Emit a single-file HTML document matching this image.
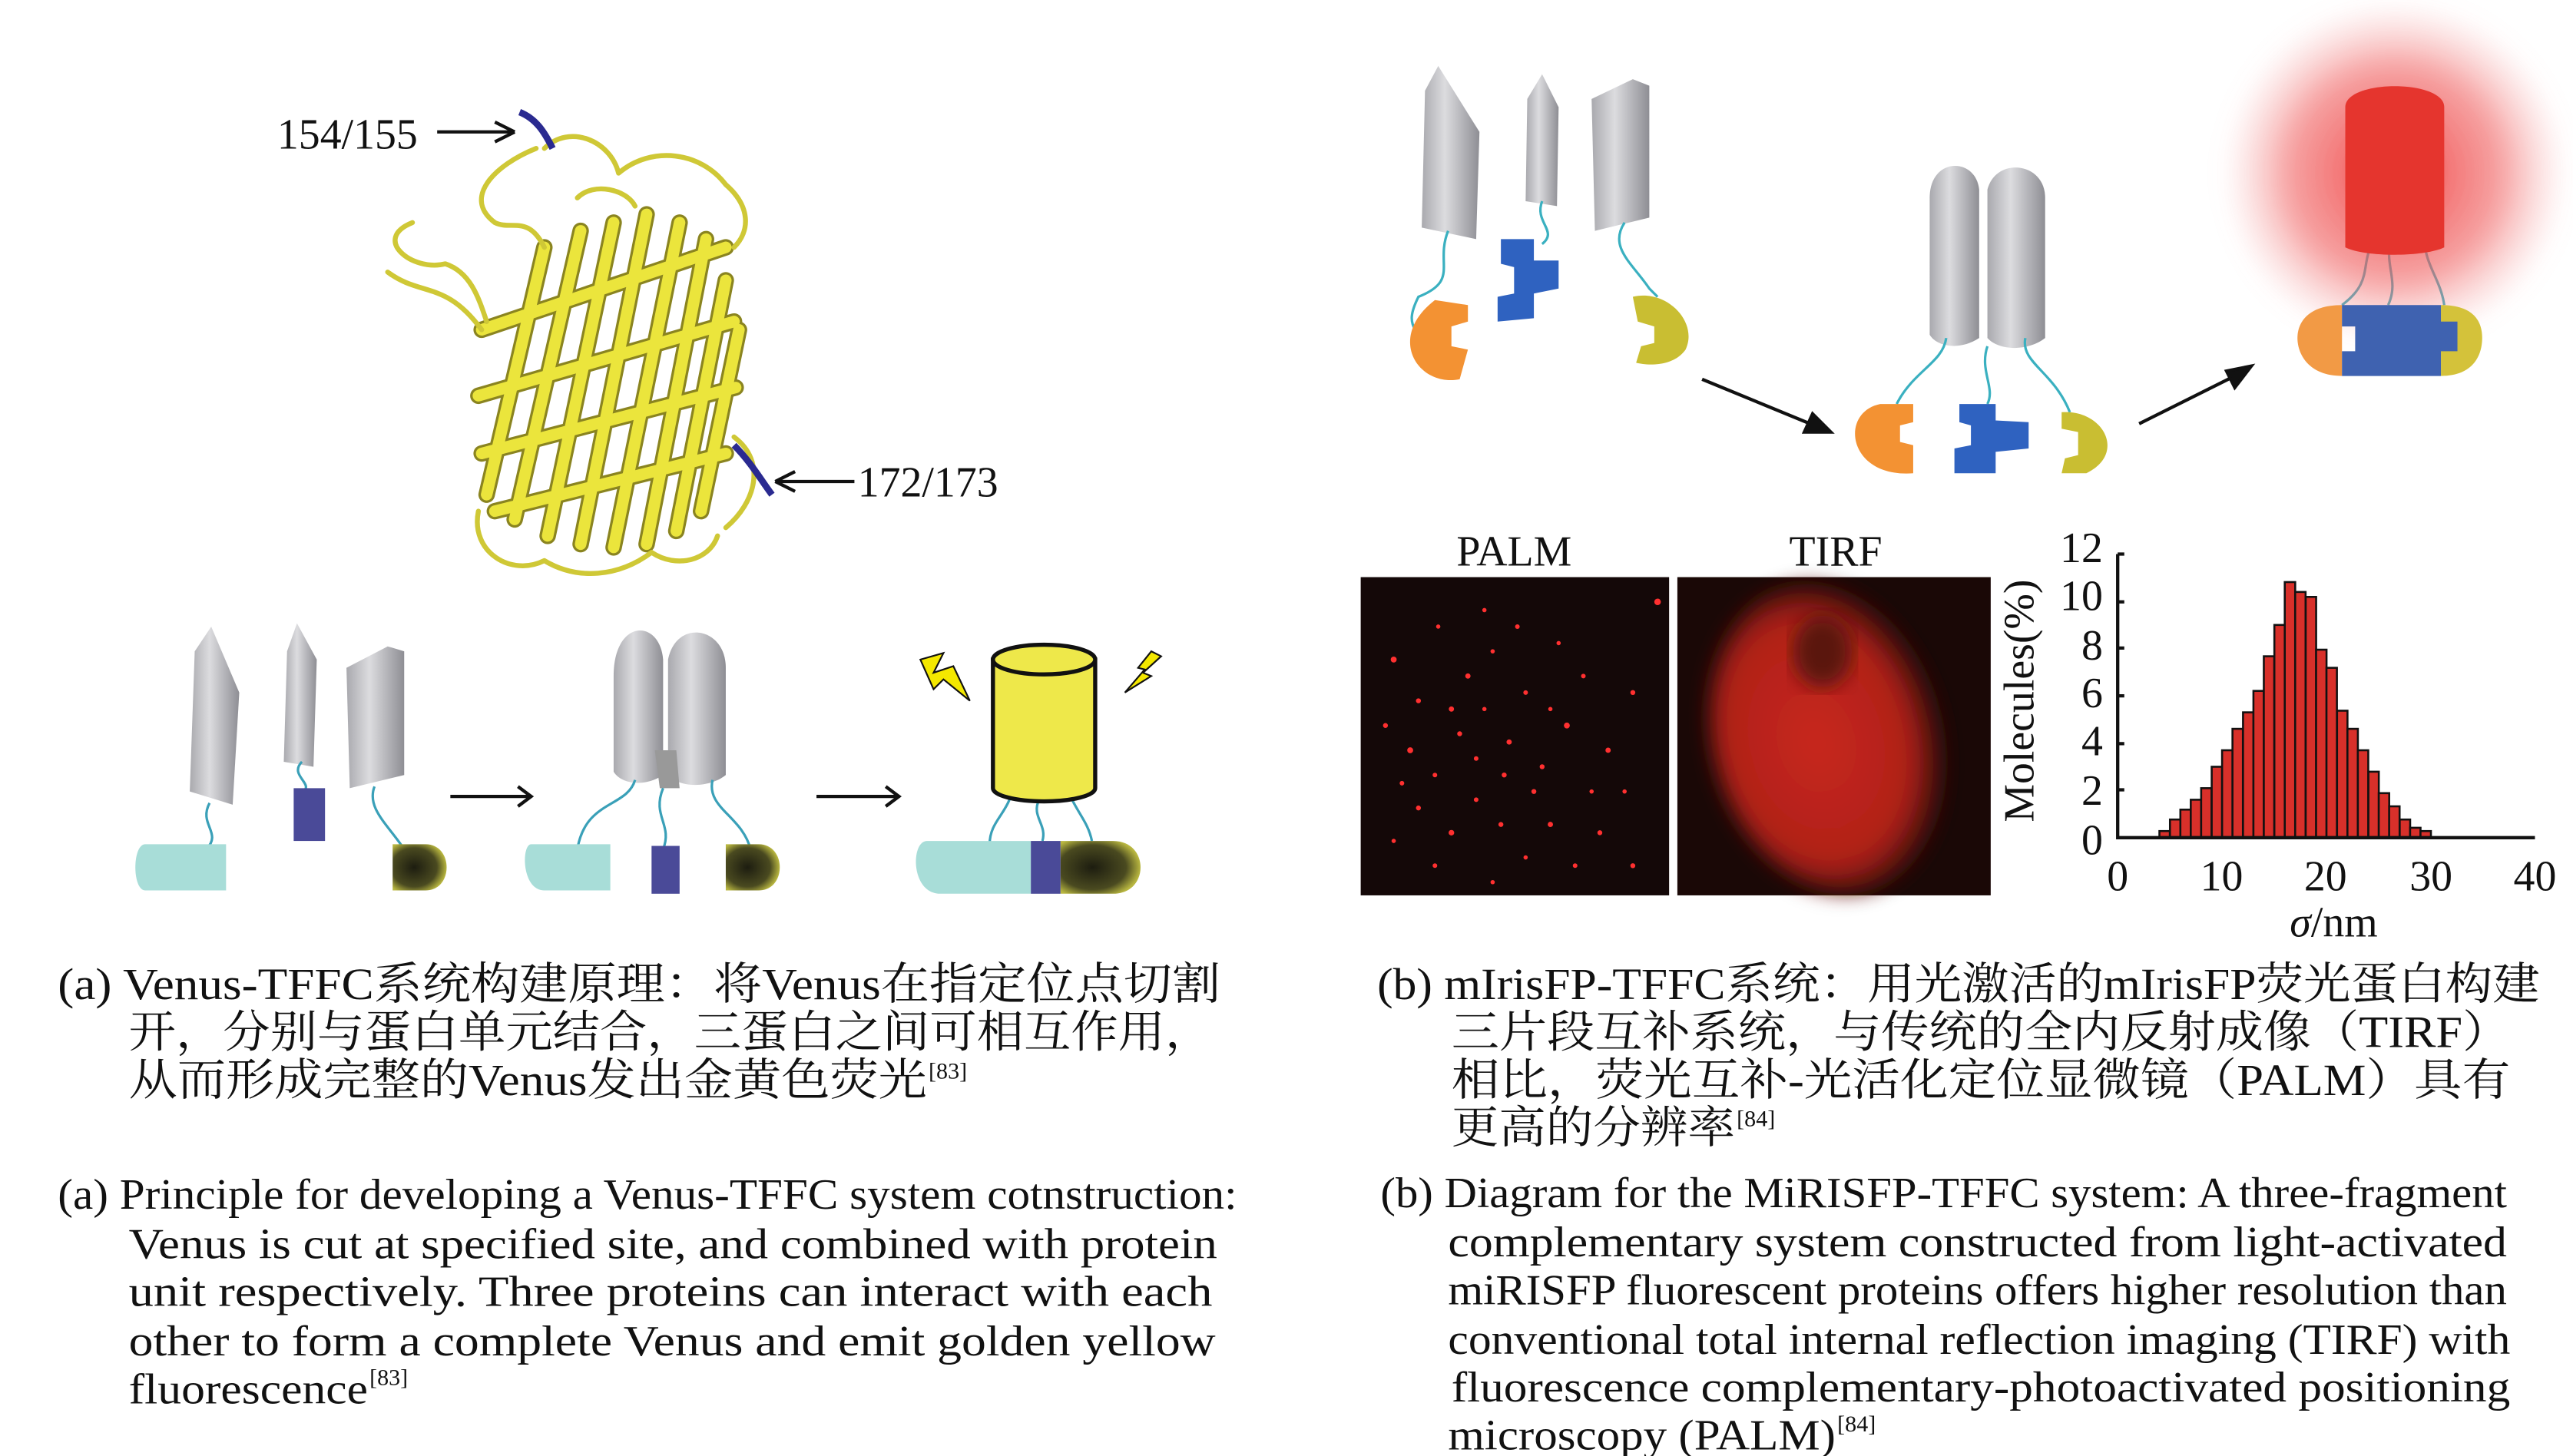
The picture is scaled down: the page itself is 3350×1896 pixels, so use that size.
<!DOCTYPE html>
<html><head><meta charset="utf-8"><style>
html,body{margin:0;padding:0;background:#fff;width:3350px;height:1896px;overflow:hidden}
svg{display:block}
.cn{font-family:"Liberation Serif","Noto Serif CJK SC",serif;font-size:27px;fill:#111}
.en{font-family:"Liberation Serif",serif;font-size:26px;fill:#111}
.sup{font-family:"Liberation Serif",serif;font-size:14px;fill:#111}
.ax{font-family:"Liberation Serif",serif;font-size:26px;fill:#111}
</style></head><body>
<svg width="3350" height="1896" viewBox="0 0 1560 883" xmlns="http://www.w3.org/2000/svg">
<defs>
<linearGradient id="gr" x1="0" x2="1"><stop offset="0" stop-color="#a9a9ae"/><stop offset="0.4" stop-color="#dcdcdf"/><stop offset="1" stop-color="#8e8e94"/></linearGradient>
<radialGradient id="ol" cx="0.4" cy="0.5" r="0.6"><stop offset="0" stop-color="#1d1d10"/><stop offset="0.7" stop-color="#4a4a20"/><stop offset="1" stop-color="#b8b640"/></radialGradient>
<radialGradient id="glow"><stop offset="0" stop-color="#ee3030" stop-opacity="0.9"/><stop offset="0.6" stop-color="#f06060" stop-opacity="0.6"/><stop offset="1" stop-color="#f4a0a0" stop-opacity="0"/></radialGradient>
<radialGradient id="tirf" cx="0.45" cy="0.5" r="0.55"><stop offset="0" stop-color="#c8281e"/><stop offset="0.7" stop-color="#b02018"/><stop offset="1" stop-color="#1a0a08"/></radialGradient>
<filter id="bl"><feGaussianBlur stdDeviation="6"/></filter>
</defs>

<!-- protein structure -->
<g fill="none" stroke-linecap="round" stroke-linejoin="round">
<g stroke="#8a8420" stroke-width="10">
<path d="M295 300 L330 150"/><path d="M312 315 L352 140"/><path d="M332 325 L372 135"/><path d="M352 330 L392 130"/><path d="M372 332 L412 135"/><path d="M392 330 L428 145"/><path d="M410 322 L440 170"/><path d="M425 310 L448 200"/>
<path d="M292 200 L440 150"/><path d="M290 240 L445 195"/><path d="M292 275 L446 235"/><path d="M300 310 L440 275"/>
</g>
<g stroke="#ebe53c" stroke-width="7">
<path d="M295 300 L330 150"/><path d="M312 315 L352 140"/><path d="M332 325 L372 135"/><path d="M352 330 L392 130"/><path d="M372 332 L412 135"/><path d="M392 330 L428 145"/><path d="M410 322 L440 170"/><path d="M425 310 L448 200"/>
<path d="M292 200 L440 150"/><path d="M290 240 L445 195"/><path d="M292 275 L446 235"/><path d="M300 310 L440 275"/>
</g>
<g stroke="#cfc836" stroke-width="3">
<path d="M330 90 C345 75 370 85 375 105 C395 88 425 92 440 112 C455 125 455 140 445 150"/>
<path d="M325 90 C300 100 280 120 300 135 C310 140 320 130 330 150"/>
<path d="M250 135 C225 145 250 165 270 160 C285 165 290 180 295 195"/>
<path d="M235 165 C255 180 270 170 292 200"/>
<path d="M290 310 C285 335 310 350 330 340 C350 352 375 350 395 335 C410 345 430 340 435 325"/>
<path d="M445 265 C465 280 458 305 440 320"/>
<path d="M350 120 C360 110 380 115 385 125"/>
</g>
</g>
<path d="M315 68 C325 72 330 80 335 90" stroke="#2a2a90" stroke-width="4" fill="none"/>
<path d="M445 270 C455 280 462 292 468 300" stroke="#2a2a90" stroke-width="4" fill="none"/>
<text class="ax" x="168" y="90" font-size="26">154/155</text>
<line x1="265" y1="80" x2="310" y2="80" stroke="#111" stroke-width="2"/><path d="M312 80 L300 74 M312 80 L300 86" stroke="#111" stroke-width="2"/>
<line x1="472" y1="292" x2="518" y2="292" stroke="#111" stroke-width="2"/><path d="M470 292 L482 286 M470 292 L482 298" stroke="#111" stroke-width="2"/>
<text class="ax" x="520" y="301" font-size="26">172/173</text>

<!-- left diagram -->
<g fill="url(#gr)">
<path d="M118 395 L128 380 L145 420 L141 488 L115 480Z"/>
<path d="M174 395 L180 378 L192 400 L190 465 L172 462Z"/>
<path d="M210 405 L235 392 L245 395 L245 470 L212 478Z"/>
<path d="M372 410 C372 375 400 375 402 400 L402 470 C390 478 376 475 372 468Z"/>
<path d="M405 400 C410 375 440 380 440 405 L440 470 C430 478 412 478 405 470Z"/>
<path d="M397 455 L410 455 L412 478 L400 478Z" fill="#999"/>
</g>
<g stroke="#3aa0b8" stroke-width="1.5" fill="none">
<path d="M127 487 C120 500 135 505 125 515"/><path d="M183 462 C175 470 190 475 184 480"/><path d="M227 477 C222 490 235 500 245 515"/>
<path d="M385 473 C380 490 355 485 350 515"/><path d="M402 478 C395 495 408 500 402 515"/><path d="M432 473 C428 490 450 495 455 515"/>
<path d="M612 485 C608 495 600 500 600 512"/><path d="M630 485 C625 495 635 500 632 510"/><path d="M650 485 C655 495 660 500 662 510"/>
</g>
<path d="M88 512 L137 512 L137 540 L88 540 C80 540 80 512 88 512Z" fill="#a8ddd8"/>
<rect x="178" y="478" width="19" height="32" fill="#4a4a98"/>
<path d="M238 512 L258 512 C275 512 275 540 258 540 L238 540Z" fill="url(#ol)"/>
<path d="M322 512 L370 512 L370 540 L330 540 C316 540 316 512 322 512Z" fill="#a8ddd8"/>
<rect x="395" y="513" width="17" height="29" fill="#4a4a98"/>
<path d="M440 512 L460 512 C477 512 477 540 460 540 L440 540Z" fill="url(#ol)"/>
<path d="M562 510 L625 510 L625 542 L570 542 C552 542 552 510 562 510Z" fill="#a8ddd8"/>
<rect x="625" y="510" width="18" height="32" fill="#4a4a98"/>
<path d="M643 510 L675 510 C697 510 697 542 675 542 L643 542Z" fill="url(#ol)"/>
<path d="M602 400 L602 478 A31 8 0 0 0 664 478 L664 400Z" fill="#eee84a" stroke="#111" stroke-width="2.5"/>
<ellipse cx="633" cy="400" rx="31" ry="9" fill="#eee84a" stroke="#111" stroke-width="2.5"/>
<path d="M558 400 L572 396 L566 408 L578 404 L588 425 L572 412 L566 418Z" fill="#f4e800" stroke="#111" stroke-width="1"/>
<path d="M698 395 L690 405 L694 406 L682 420 L698 410 L693 408 L704 398Z" fill="#f4e800" stroke="#111" stroke-width="1"/>
<g stroke="#111" stroke-width="2" fill="none">
<path d="M273 483 L322 483 M314 477 L322 483 L314 489"/>
<path d="M495 483 L545 483 M537 477 L545 483 L537 489"/>
</g>

<!-- right top diagram -->
<g fill="url(#gr)">
<path d="M864 55 L872 40 L897 80 L895 145 L862 138Z"/>
<path d="M926 60 L935 45 L945 65 L944 125 L925 122Z"/>
<path d="M965 60 L990 48 L1000 52 L1000 132 L967 140Z"/>
<path d="M1170 120 C1170 95 1198 95 1200 115 L1200 205 C1188 213 1174 210 1170 203Z"/>
<path d="M1205 115 C1210 95 1240 98 1240 120 L1240 205 C1230 213 1212 213 1205 205Z"/>
</g>
<g stroke="#3ab0c0" stroke-width="1.5" fill="none">
<path d="M878 140 C870 160 885 170 860 180 C855 190 855 195 858 200"/><path d="M935 122 C930 135 945 140 935 148"/><path d="M985 135 C975 150 990 160 1000 175 L1005 180"/>
<path d="M1180 205 C1178 220 1160 225 1150 245"/><path d="M1205 210 C1200 225 1210 235 1205 245"/><path d="M1228 205 C1225 220 1245 225 1255 250"/>
<path d="M1440 145 C1430 160 1440 170 1420 185"/><path d="M1450 145 C1445 160 1455 170 1448 185"/><path d="M1470 145 C1470 160 1480 170 1482 185"/>
</g>
<path d="M870 182 L890 185 L890 195 L880 198 L880 210 L890 212 L885 230 C860 235 840 205 870 182Z" fill="#f39233"/>
<path d="M910 145 L930 145 L930 158 L945 158 L945 175 L930 178 L930 193 L908 195 L908 180 L918 178 L918 162 L910 160Z" fill="#2f62c0"/>
<path d="M990 180 C1010 175 1030 195 1022 212 C1015 222 1000 222 992 220 L995 210 L1003 208 L1003 198 L993 195Z" fill="#c9be32"/>
<path d="M1140 245 L1160 245 L1160 256 L1152 258 L1152 268 L1160 270 L1160 287 C1120 290 1115 250 1140 245Z" fill="#f39233"/>
<path d="M1188 245 L1210 245 L1210 255 L1230 256 L1230 272 L1210 274 L1210 287 L1185 287 L1185 272 L1195 270 L1195 258 L1188 256Z" fill="#2f62c0"/>
<path d="M1250 250 C1275 248 1290 275 1265 287 L1250 287 L1252 278 L1260 276 L1260 262 L1250 260Z" fill="#c9be32"/>
<circle cx="1452" cy="105" r="105" fill="url(#glow)" filter="url(#bl)"/>
<path d="M1422 150 L1422 65 C1422 48 1482 48 1482 65 L1482 150 C1470 156 1434 156 1422 150Z" fill="#e5352e"/>
<path d="M1420 185 L1420 228 C1400 228 1393 215 1393 205 C1393 195 1400 185 1420 185Z" fill="#f29a45"/>
<path d="M1480 185 L1480 228 C1500 228 1505 215 1505 205 C1505 195 1500 185 1480 185Z" fill="#d4c23a"/>
<path d="M1420 185 L1480 185 L1480 195 L1490 195 L1490 213 L1480 213 L1480 228 L1420 228 L1420 213 L1428 213 L1428 198 L1420 198Z" fill="#3f62b0"/>
<g stroke="#111" stroke-width="2" fill="#111">
<line x1="1032" y1="230" x2="1100" y2="258"/><path d="M1110 262 L1094 262 L1099 251Z"/>
<line x1="1297" y1="257" x2="1355" y2="228"/><path d="M1365 222 L1355 235 L1350 225Z"/>
</g>

<!-- PALM / TIRF -->
<text class="ax" x="918" y="343" text-anchor="middle" font-size="26">PALM</text>
<text class="ax" x="1113" y="343" text-anchor="middle" font-size="26">TIRF</text>
<rect x="825" y="350" width="187" height="193" fill="#140808"/>
<g fill="#ff3030">
<circle cx="845" cy="400" r="1.8"/><circle cx="860" cy="425" r="1.5"/><circle cx="872" cy="380" r="1.3"/><circle cx="890" cy="410" r="1.6"/><circle cx="905" cy="395" r="1.3"/><circle cx="840" cy="440" r="1.5"/><circle cx="855" cy="455" r="1.8"/><circle cx="870" cy="470" r="1.4"/><circle cx="885" cy="445" r="1.5"/><circle cx="900" cy="430" r="1.3"/><circle cx="915" cy="450" r="1.6"/><circle cx="925" cy="420" r="1.4"/><circle cx="935" cy="465" r="1.5"/><circle cx="950" cy="440" r="1.8"/><circle cx="960" cy="410" r="1.4"/><circle cx="975" cy="455" r="1.6"/><circle cx="985" cy="480" r="1.3"/><circle cx="860" cy="490" r="1.5"/><circle cx="880" cy="505" r="1.7"/><circle cx="895" cy="485" r="1.4"/><circle cx="910" cy="500" r="1.5"/><circle cx="925" cy="520" r="1.3"/><circle cx="940" cy="500" r="1.6"/><circle cx="955" cy="525" r="1.4"/><circle cx="970" cy="505" r="1.5"/><circle cx="845" cy="510" r="1.3"/><circle cx="900" cy="370" r="1.3"/><circle cx="920" cy="380" r="1.4"/><circle cx="945" cy="390" r="1.3"/><circle cx="990" cy="420" r="1.5"/><circle cx="880" cy="430" r="1.6"/><circle cx="895" cy="460" r="1.4"/><circle cx="930" cy="480" r="1.5"/><circle cx="965" cy="480" r="1.3"/><circle cx="850" cy="475" r="1.4"/><circle cx="912" cy="470" r="1.5"/><circle cx="940" cy="430" r="1.3"/><circle cx="870" cy="525" r="1.4"/><circle cx="990" cy="525" r="1.5"/><circle cx="905" cy="535" r="1.3"/><circle cx="1005" cy="365" r="2"/>
</g>
<rect x="1017" y="350" width="190" height="193" fill="#1a0806"/>
<ellipse cx="1108" cy="448" rx="70" ry="95" fill="url(#tirf)" filter="url(#bl)" transform="rotate(-15 1108 448)"/>
<ellipse cx="1105" cy="395" rx="18" ry="22" fill="#5a120c" filter="url(#bl)"/>

<!-- histogram -->
<g class="ax" font-size="24" text-anchor="end">
<text x="1275" y="341">12</text><text x="1275" y="370">10</text><text x="1275" y="400">8</text><text x="1275" y="429">6</text><text x="1275" y="458">4</text><text x="1275" y="488">2</text><text x="1275" y="518">0</text>
</g>
<g class="ax" font-size="24" text-anchor="middle">
<text x="1284" y="540">0</text><text x="1347" y="540">10</text><text x="1410" y="540">20</text><text x="1474" y="540">30</text><text x="1537" y="540">40</text>
<text x="1415" y="568" font-style="italic">σ<tspan font-style="normal">/nm</tspan></text>
</g>
<text class="ax" font-size="26" text-anchor="middle" transform="translate(1233 425) rotate(-90)">Molecules(%)</text>
<g stroke="#111" stroke-width="1.2" fill="#d8302a">
<rect x="1309.3" y="504" width="6.33" height="4"/><rect x="1315.7" y="497" width="6.33" height="11"/><rect x="1322" y="491" width="6.33" height="17"/><rect x="1328.3" y="485" width="6.33" height="23"/><rect x="1334.6" y="478" width="6.33" height="30"/><rect x="1341" y="465" width="6.33" height="43"/><rect x="1347.3" y="455" width="6.33" height="53"/><rect x="1353.6" y="442" width="6.33" height="66"/><rect x="1360" y="432" width="6.33" height="76"/><rect x="1366.3" y="419" width="6.33" height="89"/><rect x="1372.6" y="398" width="6.33" height="110"/><rect x="1379" y="379" width="6.33" height="129"/><rect x="1385.3" y="353" width="6.33" height="155"/><rect x="1391.6" y="359" width="6.33" height="149"/><rect x="1398" y="362" width="6.33" height="146"/><rect x="1404.3" y="394" width="6.33" height="114"/><rect x="1410.6" y="405" width="6.33" height="103"/><rect x="1417" y="431" width="6.33" height="77"/><rect x="1423.3" y="442" width="6.33" height="66"/><rect x="1429.6" y="455" width="6.33" height="53"/><rect x="1436" y="468" width="6.33" height="40"/><rect x="1442.3" y="481" width="6.33" height="27"/><rect x="1448.6" y="489" width="6.33" height="19"/><rect x="1455" y="497" width="6.33" height="11"/><rect x="1461.3" y="502" width="6.33" height="6"/><rect x="1467.6" y="504" width="6.33" height="4"/>
</g>
<g stroke="#111" stroke-width="2" fill="none">
<path d="M1284 336 L1284 508 L1537 508"/>
<path d="M1284 336 h4 M1284 365 h4 M1284 393 h4 M1284 422 h4 M1284 451 h4 M1284 479 h4"/>
</g>

<!-- captions (a) -->
<text class="cn" x="35" y="606" textLength="705" lengthAdjust="spacingAndGlyphs">(a) Venus-TFFC系统构建原理：将Venus在指定位点切割</text>
<text class="cn" x="78" y="635" textLength="657" lengthAdjust="spacingAndGlyphs">开，分别与蛋白单元结合，三蛋白之间可相互作用，</text>
<text class="cn" x="78" y="664" textLength="484" lengthAdjust="spacingAndGlyphs">从而形成完整的Venus发出金黄色荧光</text><text class="sup" x="563" y="654">[83]</text>

<text class="en" x="35" y="733" textLength="715" lengthAdjust="spacingAndGlyphs">(a) Principle for developing a Venus-TFFC system cotnstruction:</text>
<text class="en" x="78" y="763" textLength="660" lengthAdjust="spacingAndGlyphs">Venus is cut at specified site, and combined with protein</text>
<text class="en" x="78" y="792" textLength="657" lengthAdjust="spacingAndGlyphs">unit respectively. Three proteins can interact with each</text>
<text class="en" x="78" y="822" textLength="659" lengthAdjust="spacingAndGlyphs">other to form a complete Venus and emit golden yellow</text>
<text class="en" x="78" y="851" textLength="145" lengthAdjust="spacingAndGlyphs">fluorescence</text><text class="sup" x="224" y="840">[83]</text>

<!-- captions (b) -->
<text class="cn" x="835" y="606" textLength="705" lengthAdjust="spacingAndGlyphs">(b) mIrisFP-TFFC系统：用光激活的mIrisFP荧光蛋白构建</text>
<text class="cn" x="880" y="635" textLength="642" lengthAdjust="spacingAndGlyphs">三片段互补系统，与传统的全内反射成像（TIRF）</text>
<text class="cn" x="880" y="664" textLength="642" lengthAdjust="spacingAndGlyphs">相比，荧光互补-光活化定位显微镜（PALM）具有</text>
<text class="cn" x="880" y="693" textLength="172" lengthAdjust="spacingAndGlyphs">更高的分辨率</text><text class="sup" x="1053" y="683">[84]</text>

<text class="en" x="837" y="732" textLength="683" lengthAdjust="spacingAndGlyphs">(b) Diagram for the MiRISFP-TFFC system: A three-fragment</text>
<text class="en" x="878" y="762" textLength="642" lengthAdjust="spacingAndGlyphs">complementary system constructed from light-activated</text>
<text class="en" x="878" y="791" textLength="642" lengthAdjust="spacingAndGlyphs">miRISFP fluorescent proteins offers higher resolution than</text>
<text class="en" x="878" y="821" textLength="644" lengthAdjust="spacingAndGlyphs">conventional total internal reflection imaging (TIRF) with</text>
<text class="en" x="880" y="850" textLength="642" lengthAdjust="spacingAndGlyphs">fluorescence complementary-photoactivated positioning</text>
<text class="en" x="878" y="879" textLength="235" lengthAdjust="spacingAndGlyphs">microscopy (PALM)</text><text class="sup" x="1114" y="868">[84]</text>
</svg>
</body></html>
